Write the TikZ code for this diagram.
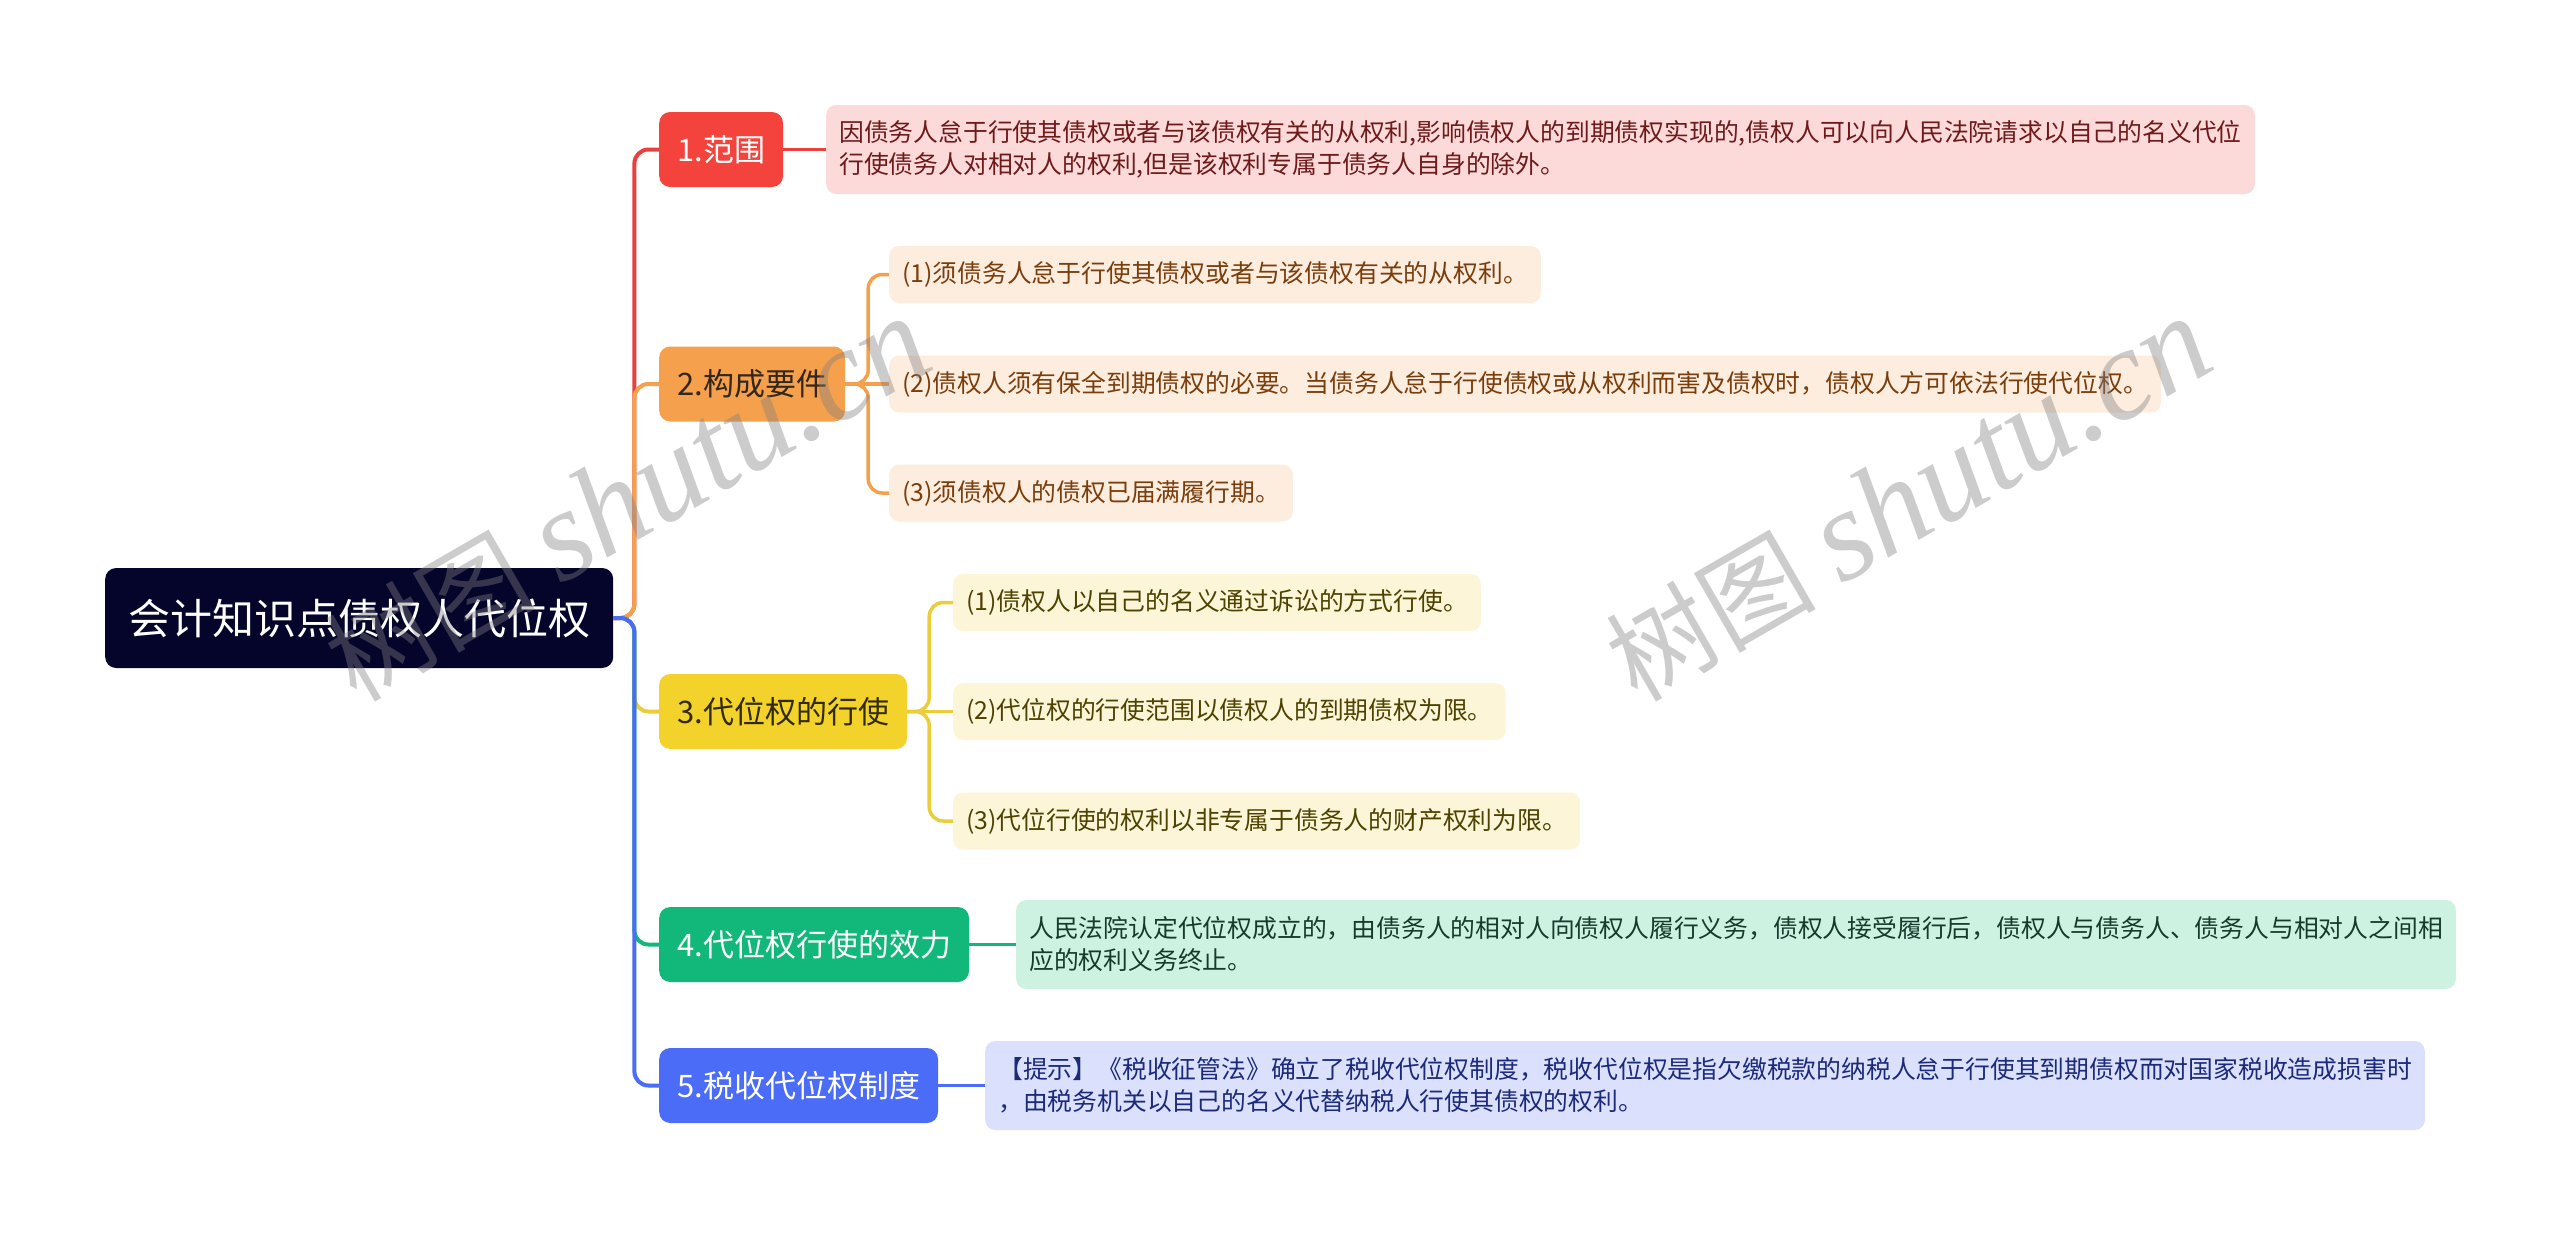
\documentclass[tikz,border=0pt]{standalone}
\usepackage{fontspec}
\newfontfamily\cjkfont{Noto Sans CJK SC}
\newfontfamily\wmfont{Liberation Serif}
\definecolor{rootfill}{HTML}{05042B}
\definecolor{redmain}{HTML}{F4433C}
\definecolor{redline}{HTML}{E8403E}
\definecolor{redleaf}{HTML}{FDDADA}
\definecolor{redtext}{HTML}{6E1A1A}
\definecolor{orangemain}{HTML}{F5A04C}
\definecolor{orangeleaf}{HTML}{FDEDDF}
\definecolor{orangetext}{HTML}{7A3D0C}
\definecolor{orangedark}{HTML}{33261A}
\definecolor{yellowmain}{HTML}{F2D22B}
\definecolor{yellowline}{HTML}{EBCD3A}
\definecolor{yellowleaf}{HTML}{FCF5D7}
\definecolor{yellowtext}{HTML}{4D4200}
\definecolor{yellowdark}{HTML}{332B00}
\definecolor{greenmain}{HTML}{12B87A}
\definecolor{greenleaf}{HTML}{CDF2E2}
\definecolor{greentext}{HTML}{173A2C}
\definecolor{bluemain}{HTML}{4A6CF7}
\definecolor{blueleaf}{HTML}{DBE1FC}
\definecolor{bluetext}{HTML}{1B2A7A}
\begin{document}
\begin{tikzpicture}[x=1pt,y=-1pt,
		box/.style={rounded corners=11pt, inner ysep=0pt, anchor=west},
		rootbox/.style={box, fill=rootfill, text=white, inner xsep=23pt, minimum height=100pt, font=\cjkfont\fontsize{42}{50}\selectfont},
		mainbox/.style={box, inner xsep=18pt, minimum height=75pt, font=\cjkfont\fontsize{31}{38}\selectfont},
		leafbox/.style={box, rounded corners=10pt, inner xsep=13pt, minimum height=57pt, font=\cjkfont\fontsize{24.8}{32}\selectfont},
		longbox/.style={leafbox, minimum height=89pt, align=left},
		link/.style={line width=4pt, rounded corners=14pt},
		sublink/.style={line width=3.5pt, rounded corners=14pt},
		wmark/.style={text=gray, opacity=0.4, rotate=30}]
		
		\useasboundingbox (0,0) rectangle (2560,1237);
		
		\node[rootbox] (root) at (105,618) {会计知识点债权人代位权};
		
		\node[mainbox, fill=redmain, text=white] (fanwei) at (659,149.5) {1.范围};
		\node[mainbox, fill=orangemain, text=orangedark] (yaojian) at (659,384) {2.构成要件};
		\node[mainbox, fill=yellowmain, text=yellowdark] (xingshi) at (659,711.5) {3.代位权的行使};
		\node[mainbox, fill=greenmain, text=white] (xiaoli) at (659,944.5) {4.代位权行使的效力};
		\node[mainbox, fill=bluemain, text=white] (shuishou) at (659,1085.5) {5.税收代位权制度};
		
		\node[longbox, fill=redleaf, text=redtext] (fanweiA) at (826,149.5) {因债务人怠于行使其债权或者与该债权有关的从权利,影响债权人的到期债权实现的,债权人可以向人民法院请求以自己的名义代位\\行使债务人对相对人的权利,但是该权利专属于债务人自身的除外。};
		
		\node[leafbox, fill=orangeleaf, text=orangetext] (yaojianA) at (889,274.5) {(1)须债务人怠于行使其债权或者与该债权有关的从权利。};
		\node[leafbox, fill=orangeleaf, text=orangetext] (yaojianB) at (889,384) {(2)债权人须有保全到期债权的必要。当债务人怠于行使债权或从权利而害及债权时，债权人方可依法行使代位权。};
		\node[leafbox, fill=orangeleaf, text=orangetext] (yaojianC) at (889,493) {(3)须债权人的债权已届满履行期。};
		
		\node[leafbox, fill=yellowleaf, text=yellowtext] (xingshiA) at (953,602.5) {(1)债权人以自己的名义通过诉讼的方式行使。};
		\node[leafbox, fill=yellowleaf, text=yellowtext] (xingshiB) at (953,711.5) {(2)代位权的行使范围以债权人的到期债权为限。};
		\node[leafbox, fill=yellowleaf, text=yellowtext] (xingshiC) at (953,821) {(3)代位行使的权利以非专属于债务人的财产权利为限。};
		
		\node[longbox, fill=greenleaf, text=greentext] (xiaoliA) at (1016,944.5) {人民法院认定代位权成立的，由债务人的相对人向债权人履行义务，债权人接受履行后，债权人与债务人、债务人与相对人之间相\\应的权利义务终止。};
		
		\node[longbox, fill=blueleaf, text=bluetext] (shuishouA) at (985,1085.5) {【提示】《税收征管法》确立了税收代位权制度，税收代位权是指欠缴税款的纳税人怠于行使其到期债权而对国家税收造成损害时\\，由税务机关以自己的名义代替纳税人行使其债权的权利。};
		
		\draw[link, redline] (root.east) -- ++(21,0) |- (fanwei.west);
		\draw[link, orangemain] (root.east) -- ++(21,0) |- (yaojian.west);
		\draw[link, yellowline] (root.east) -- ++(21,0) |- (xingshi.west);
		\draw[link, greenmain] (root.east) -- ++(21,0) |- (xiaoli.west);
		\draw[link, bluemain] (root.east) -- ++(21,0) |- (shuishou.west);
		
		\draw[sublink, redline] (fanwei.east) -- (fanweiA.west);
		\draw[sublink, orangemain] (yaojian.east) -- ++(23,0) |- (yaojianA.west);
		\draw[sublink, orangemain] (yaojian.east) -- (yaojianB.west);
		\draw[sublink, orangemain] (yaojian.east) -- ++(23,0) |- (yaojianC.west);
		\draw[sublink, yellowline] (xingshi.east) -- ++(22,0) |- (xingshiA.west);
		\draw[sublink, yellowline] (xingshi.east) -- (xingshiB.west);
		\draw[sublink, yellowline] (xingshi.east) -- ++(22,0) |- (xingshiC.west);
		\draw[sublink, greenmain] (xiaoli.east) -- (xiaoliA.west);
		\draw[sublink, bluemain] (shuishou.east) -- (shuishouA.west);
		
		\node[wmark] (wmA) at (627,500) {{\cjkfont\fontsize{105}{105}\selectfont 树图}\hspace{25pt}{\wmfont\itshape\fontsize{130}{130}\selectfont shutu.cn}};
		\node[wmark] (wmB) at (1908,500) {{\cjkfont\fontsize{105}{105}\selectfont 树图}\hspace{25pt}{\wmfont\itshape\fontsize{130}{130}\selectfont shutu.cn}};
	\end{tikzpicture}
\end{document}
